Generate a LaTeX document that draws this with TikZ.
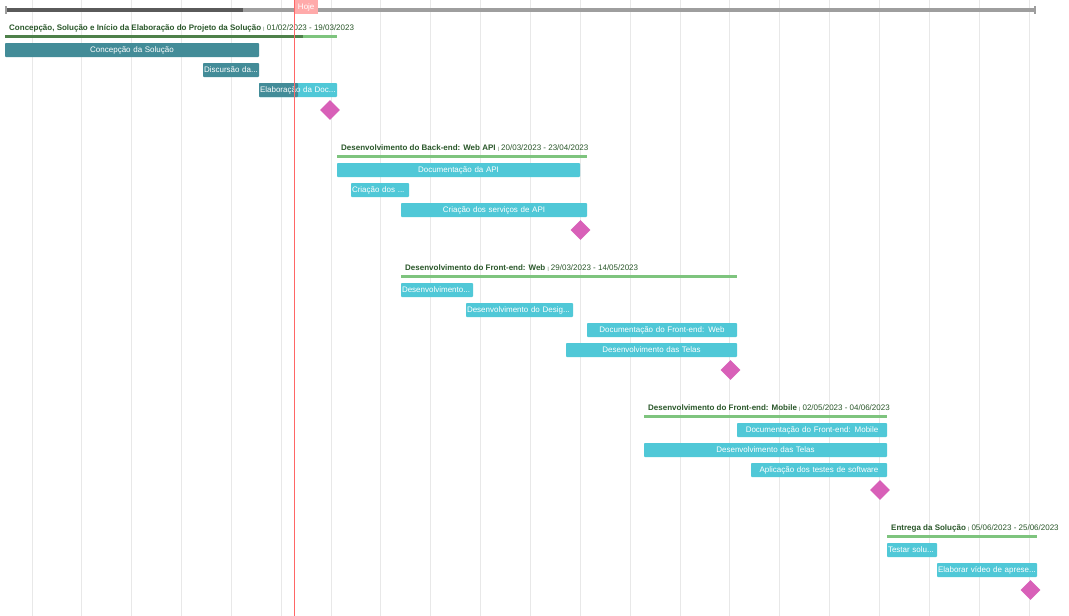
\documentclass[tikz,border=0pt]{standalone}
\usepackage{fontspec}
\setmainfont{Liberation Sans}
\usetikzlibrary{shapes.geometric}

\definecolor{gridgray}{HTML}{E8E8E8}
\definecolor{trackgray}{HTML}{9E9E9E}
\definecolor{trackdark}{HTML}{5A5A5A}
\definecolor{taskdark}{HTML}{438C98}
\definecolor{tasklight}{HTML}{50C8D7}
\definecolor{grpdark}{HTML}{4E804A}
\definecolor{grplight}{HTML}{7EC47E}
\definecolor{grptext}{HTML}{2A572A}
\definecolor{milestone}{HTML}{D860B8}
\definecolor{todayline}{HTML}{FF6666}
\definecolor{todaybox}{HTML}{FFAAAA}

\tikzset{
  gridline/.style={draw=gridgray, line width=1pt},
  taskbox/.style={rectangle, rounded corners=0.8pt, minimum height=14pt, inner sep=0pt,
    text=white, font=\fontsize{8}{9.6}\selectfont},
  darktask/.style={taskbox, fill=taskdark},
  lighttask/.style={taskbox, fill=tasklight},
  grouplabel/.style={anchor=base west, inner sep=0pt, text=grptext,
    font=\fontsize{8}{9.6}\selectfont},
  groupbar/.style={line width=3pt, draw=grplight},
  mstone/.style={diamond, fill=milestone, minimum size=20pt, inner sep=0pt},
}

% task bar: name, left x, right x, centre y, style, alignment, label
\newcommand{\gtask}[7]{%
  \pgfmathsetmacro\gtwidth{#3-#2}%
  \pgfmathsetmacro\gttext{#3-#2-2}%
  \node[#5, minimum width=\gtwidth pt, text width=\gttext pt, align=#6]
    (#1) at ({(#2+#3)/2},#4) {\mbox{#7}};}

% group heading: name, x, baseline y, title, dates
\newcommand{\ghead}[5]{%
  \node[grouplabel] (#1) at (#2,#3)
    {\textbf{#4} {\fontsize{4.5}{5}\selectfont|} #5};}

\begin{document}
\begin{tikzpicture}[x=1pt,y=-1pt]
\useasboundingbox (0,0) rectangle (1069,616);
\fill[white] (0,0) rectangle (1069,616);

% weekly grid lines
\foreach \i in {0,...,20}
  \draw[gridline] ({32+49.85*\i},0) -- ({32+49.85*\i},616);

% overall progress track
\coordinate (trackL) at (5,10);
\coordinate (trackD) at (243,10);
\coordinate (trackR) at (1036,10);
\draw[trackgray, line width=4pt] (trackL) -- (trackR);
\draw[trackdark, line width=4pt] (trackL) -- (trackD);
\draw[trackgray, line width=2pt] (6,6) -- (6,14);
\draw[trackgray, line width=2pt] (1035,6) -- (1035,14);

% group 1
\ghead{g1}{9}{30}{Concepção, Solução e Início da Elaboração do Projeto da Solução}{01/02/2023 - 19/03/2023}
\coordinate (g1a) at (5,36);
\coordinate (g1b) at (303,36);
\coordinate (g1c) at (337,36);
\draw[groupbar] (g1b) -- (g1c);
\draw[groupbar, draw=grpdark] (g1a) -- (g1b);
\gtask{t11}{5}{259}{50}{darktask}{center}{Concepção da Solução}
\gtask{t12}{203}{259}{70}{darktask}{left}{Discursão da...}
\node[lighttask, minimum width=78pt, text width=76pt, align=left,
  path picture={\fill[taskdark] (path picture bounding box.north west)
    rectangle ([xshift=39pt]path picture bounding box.south west);}]
  (t13) at (298,90) {\mbox{Elaboração da Doc...}};
\node[mstone] (m1) at (330,110) {};

% group 2
\ghead{g2}{341}{150}{Desenvolvimento do Back-end: Web API}{20/03/2023 - 23/04/2023}
\coordinate (g2a) at (337,156);
\coordinate (g2b) at (587,156);
\draw[groupbar] (g2a) -- (g2b);
\gtask{t21}{337}{580}{170}{lighttask}{center}{Documentação da API}
\gtask{t22}{351}{409}{190}{lighttask}{left}{Criação dos ...}
\gtask{t23}{401}{587}{210}{lighttask}{center}{Criação dos serviços de API}
\node[mstone] (m2) at (580.5,230) {};

% group 3
\ghead{g3}{405}{270}{Desenvolvimento do Front-end: Web}{29/03/2023 - 14/05/2023}
\coordinate (g3a) at (401,276);
\coordinate (g3b) at (737,276);
\draw[groupbar] (g3a) -- (g3b);
\gtask{t31}{401}{473}{290}{lighttask}{left}{Desenvolvimento...}
\gtask{t32}{466}{573}{310}{lighttask}{left}{Desenvolvimento do Desig...}
\gtask{t33}{587}{737}{330}{lighttask}{center}{Documentação do Front-end: Web}
\gtask{t34}{566}{737}{350}{lighttask}{center}{Desenvolvimento das Telas}
\node[mstone] (m3) at (730.5,370) {};

% group 4
\ghead{g4}{648}{410}{Desenvolvimento do Front-end: Mobile}{02/05/2023 - 04/06/2023}
\coordinate (g4a) at (644,416);
\coordinate (g4b) at (887,416);
\draw[groupbar] (g4a) -- (g4b);
\gtask{t41}{737}{887}{430}{lighttask}{center}{Documentação do Front-end: Mobile}
\gtask{t42}{644}{887}{450}{lighttask}{center}{Desenvolvimento das Telas}
\gtask{t43}{751}{887}{470}{lighttask}{center}{Aplicação dos testes de software}
\node[mstone] (m4) at (880,490) {};

% group 5
\ghead{g5}{891}{530}{Entrega da Solução}{05/06/2023 - 25/06/2023}
\coordinate (g5a) at (887,536);
\coordinate (g5b) at (1037,536);
\draw[groupbar] (g5a) -- (g5b);
\gtask{t51}{887}{937}{550}{lighttask}{left}{Testar solu...}
\gtask{t52}{937}{1037}{570}{lighttask}{left}{Elaborar vídeo de aprese...}
\node[mstone] (m5) at (1030.5,590) {};

% today marker
\node[fill=todaybox, text=white, anchor=north west, inner sep=0pt,
  minimum width=24pt, minimum height=14pt, font=\fontsize{8}{9.6}\selectfont]
  (today) at (294,0) {Hoje};
\coordinate (todayTop) at (294,0);
\coordinate (todayBot) at (294,616);
\draw[todayline, line width=1pt] (todayTop) -- (todayBot);
\end{tikzpicture}
\end{document}
